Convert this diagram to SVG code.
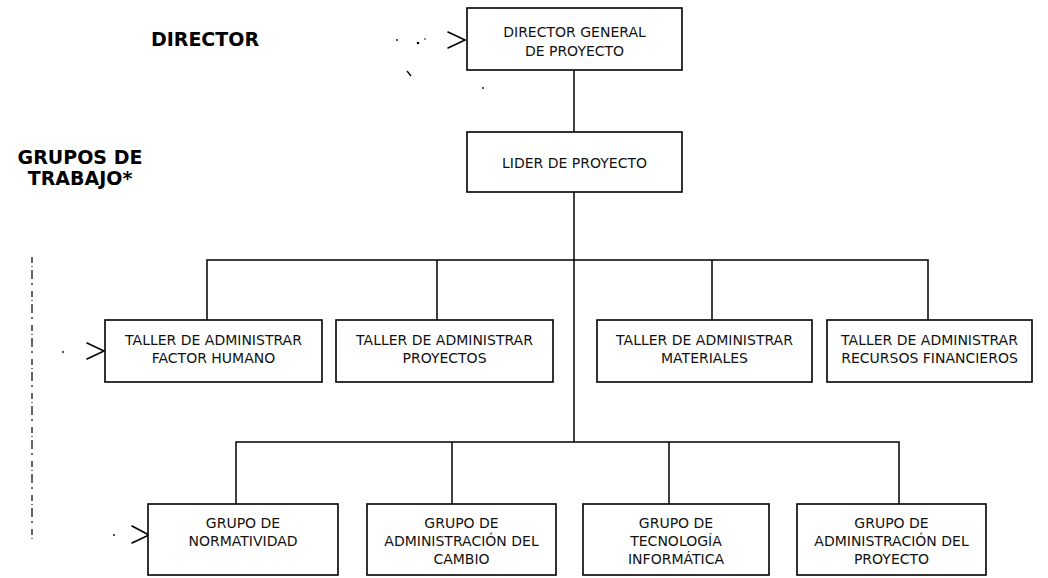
<svg xmlns="http://www.w3.org/2000/svg" width="1048" height="578" viewBox="0 0 1048 578">
  <style>
    .box { fill: #ffffff; stroke: #000000; stroke-width: 1.6; }
    .wire { fill: none; stroke: #000000; stroke-width: 1.5; }
    .mark { fill: none; stroke: #000000; stroke-width: 1.6; stroke-linecap: round; }
    .lbl { font-family: "DejaVu Sans", Verdana, sans-serif; font-size: 14px; fill: #111111; text-anchor: middle; }
    .head { font-family: "DejaVu Sans", Verdana, sans-serif; font-size: 19px; font-weight: bold; fill: #000000; text-anchor: middle; }
  </style>
  <rect width="1048" height="578" fill="#ffffff"/>

  <!-- level headings -->
  <g id="heading-director">
    <text class="head" x="205" y="46">DIRECTOR</text>
  </g>
  <g id="heading-grupos">
    <text class="head" x="80" y="164">GRUPOS DE</text>
    <text class="head" x="80" y="185">TRABAJO*</text>
  </g>

  <!-- dotted bracket at the left margin -->
  <line x1="32" y1="257" x2="32" y2="540" stroke="#000" stroke-width="1.2" stroke-dasharray="6 3 1 3 9 4 2 6"/>

  <!-- pointer marks -->
  <g id="pointers">
    <path class="mark" d="M448 32 L465 40 L448 48"/>
    <path class="mark" d="M87 343 L104 351 L87 359"/>
    <path class="mark" d="M132 526 L149 535 L132 543"/>
    <circle cx="63" cy="352" r="0.9" fill="#000"/>
    <circle cx="114" cy="535" r="0.9" fill="#000"/>
    <circle cx="397" cy="40" r="0.9" fill="#000"/>
    <circle cx="418" cy="43" r="1.3" fill="#000"/>
    <circle cx="425" cy="39" r="0.8" fill="#000"/>
    <line x1="407" y1="71" x2="411" y2="76" stroke="#000" stroke-width="1.3"/>
    <circle cx="483" cy="88" r="0.9" fill="#000"/>
  </g>

  <!-- connectors -->
  <g id="connectors">
    <line class="wire" x1="574" y1="70" x2="574" y2="132"/>
    <line class="wire" x1="574" y1="192" x2="574" y2="442"/>
    <polyline class="wire" points="207,320 207,260 928,260 928,320"/>
    <line class="wire" x1="437" y1="260" x2="437" y2="320"/>
    <line class="wire" x1="712" y1="260" x2="712" y2="320"/>
    <polyline class="wire" points="236,504 236,442 899,442 899,504"/>
    <line class="wire" x1="452" y1="442" x2="452" y2="504"/>
    <line class="wire" x1="669" y1="442" x2="669" y2="504"/>
  </g>

  <!-- top levels -->
  <g id="director-general">
    <rect class="box" x="467" y="8" width="215" height="62"/>
    <text class="lbl" x="574.5" y="37">DIRECTOR GENERAL</text>
    <text class="lbl" x="574.5" y="56">DE PROYECTO</text>
  </g>
  <g id="lider-proyecto">
    <rect class="box" x="467" y="132" width="215" height="60"/>
    <text class="lbl" x="574.5" y="168">LIDER DE PROYECTO</text>
  </g>

  <!-- workshops -->
  <g id="taller-factor-humano">
    <rect class="box" x="105" y="320" width="217" height="62"/>
    <text class="lbl" x="213.5" y="345">TALLER DE ADMINISTRAR</text>
    <text class="lbl" x="213.5" y="363">FACTOR HUMANO</text>
  </g>
  <g id="taller-proyectos">
    <rect class="box" x="336" y="320" width="217" height="62"/>
    <text class="lbl" x="444.5" y="345">TALLER DE ADMINISTRAR</text>
    <text class="lbl" x="444.5" y="363">PROYECTOS</text>
  </g>
  <g id="taller-materiales">
    <rect class="box" x="597" y="320" width="215" height="62"/>
    <text class="lbl" x="704.5" y="345">TALLER DE ADMINISTRAR</text>
    <text class="lbl" x="704.5" y="363">MATERIALES</text>
  </g>
  <g id="taller-recursos">
    <rect class="box" x="827" y="320" width="205" height="62"/>
    <text class="lbl" x="929.5" y="345">TALLER DE ADMINISTRAR</text>
    <text class="lbl" x="929.5" y="363">RECURSOS FINANCIEROS</text>
  </g>

  <!-- working groups -->
  <g id="grupo-normatividad">
    <rect class="box" x="148" y="504" width="190" height="71"/>
    <text class="lbl" x="243" y="528">GRUPO DE</text>
    <text class="lbl" x="243" y="546">NORMATIVIDAD</text>
  </g>
  <g id="grupo-cambio">
    <rect class="box" x="367" y="504" width="189" height="71"/>
    <text class="lbl" x="461.5" y="528">GRUPO DE</text>
    <text class="lbl" x="461.5" y="546">ADMINISTRACIÓN DEL</text>
    <text class="lbl" x="461.5" y="564">CAMBIO</text>
  </g>
  <g id="grupo-tecnologia">
    <rect class="box" x="583" y="504" width="186" height="71"/>
    <text class="lbl" x="676" y="528">GRUPO DE</text>
    <text class="lbl" x="676" y="546">TECNOLOGÍA</text>
    <text class="lbl" x="676" y="564">INFORMÁTICA</text>
  </g>
  <g id="grupo-proyecto">
    <rect class="box" x="797" y="504" width="189" height="71"/>
    <text class="lbl" x="891.5" y="528">GRUPO DE</text>
    <text class="lbl" x="891.5" y="546">ADMINISTRACIÓN DEL</text>
    <text class="lbl" x="891.5" y="564">PROYECTO</text>
  </g>
</svg>
